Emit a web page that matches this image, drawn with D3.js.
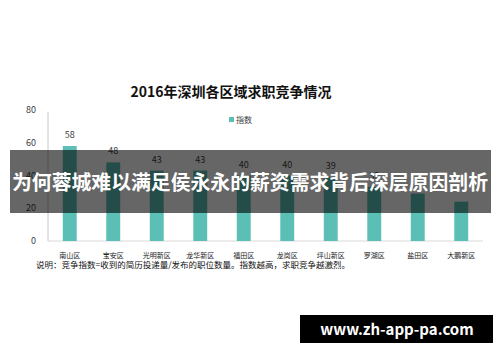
<!DOCTYPE html>
<html>
<head>
<meta charset="utf-8">
<script src="https://cdn.jsdelivr.net/npm/d3@7"></script>
<style>
  body { margin: 0; background: #fff; }
  svg { display: block; font-family: "Noto Sans CJK SC", "Noto Sans", sans-serif; }
</style>
</head>
<body>
<div id="chart"></div>
<script>
// Chart data
const districts = ['南山区', '宝安区', '光明新区', '龙华新区', '福田区', '龙岗区', '坪山新区', '罗湖区', '盐田区', '大鹏新区'];
const indexValues = [58, 48, 43, 43, 40, 40, 39, 33, 29, 24];
const yTicks = [0, 20, 40, 60, 80];
const shownLabels = [true, true, true, true, true, true, true, true, false, false];

const title = '2016年深圳各区域求职竞争情况';
const legendLabel = '指数';
const note = '说明：竞争指数=收到的简历投递量/发布的职位数量。指数越高，求职竞争越激烈。';
const bannerText = '为何蓉城难以满足侯永永的薪资需求背后深层原因剖析';
const siteText = 'www.zh-app-pa.com';

const width = 500, height = 362;
const margin = { top: 110, right: 17, bottom: 121, left: 48 };
const barColor = '#5bbfb5';

const svg = d3.select('#chart')
    .append('svg')
    .attr('width', width)
    .attr('height', height);

const x = d3.scaleBand()
    .domain(districts)
    .range([margin.left, width - margin.right])
    .paddingInner(0.68)
    .paddingOuter(0.34);

const y = d3.scaleLinear()
    .domain([0, 80])
    .range([height - margin.bottom, margin.top]);

// Title
svg.append('text')
    .attr('x', 231)
    .attr('y', 97)
    .attr('text-anchor', 'middle')
    .style('font-size', '14px')
    .style('font-weight', 'bold')
    .attr('fill', '#111')
    .text(title);

// Legend
svg.append('rect')
    .attr('x', 229)
    .attr('y', 117)
    .attr('width', 5)
    .attr('height', 5)
    .attr('fill', barColor);
svg.append('text')
    .attr('x', 236)
    .attr('y', 123)
    .style('font-size', '8px')
    .attr('fill', '#404040')
    .text(legendLabel);

// Y axis labels
svg.append('g')
    .selectAll('text')
    .data(yTicks)
    .join('text')
    .attr('x', 36)
    .attr('y', d => y(d) + 3)
    .attr('text-anchor', 'end')
    .style('font-size', '9px')
    .attr('fill', '#404040')
    .text(d => d);

// Axis lines
svg.append('line')
    .attr('x1', margin.left).attr('x2', margin.left)
    .attr('y1', margin.top + 2).attr('y2', y(0))
    .attr('stroke', '#c8c8c8');
svg.append('line')
    .attr('x1', margin.left).attr('x2', width - margin.right)
    .attr('y1', y(0)).attr('y2', y(0))
    .attr('stroke', '#d9d9d9');

// Bars
svg.append('g')
    .selectAll('rect')
    .data(indexValues)
    .join('rect')
    .attr('x', (d, i) => x(districts[i]))
    .attr('y', d => y(d))
    .attr('width', x.bandwidth())
    .attr('height', d => y(0) - y(d))
    .attr('fill', barColor);

// Value labels
svg.append('g')
    .selectAll('text')
    .data(indexValues)
    .join('text')
    .attr('x', (d, i) => x(districts[i]) + x.bandwidth() / 2)
    .attr('y', d => y(d) - 8)
    .attr('text-anchor', 'middle')
    .style('font-size', '9px')
    .attr('fill', '#404040')
    .text((d, i) => shownLabels[i] ? d : '');

// Category labels
svg.append('g')
    .selectAll('text')
    .data(districts)
    .join('text')
    .attr('x', d => x(d) + x.bandwidth() / 2)
    .attr('y', 258)
    .attr('text-anchor', 'middle')
    .style('font-size', '7px')
    .attr('fill', '#222')
    .text(d => d);

// Note
svg.append('text')
    .attr('x', 36)
    .attr('y', 268)
    .style('font-size', '8.5px')
    .attr('fill', '#111')
    .text(note);

// Dark banner with headline
svg.append('rect')
    .attr('x', 10)
    .attr('y', 150)
    .attr('width', 481)
    .attr('height', 63)
    .attr('fill', 'rgba(0,0,0,0.6)');
svg.append('text')
    .attr('x', 12)
    .attr('y', 190)
    .attr('textLength', 476)
    .attr('lengthAdjust', 'spacingAndGlyphs')
    .style('font-size', '20px')
    .style('font-weight', 'bold')
    .attr('fill', '#fff')
    .text(bannerText);

// Site watermark
svg.append('rect')
    .attr('x', 300)
    .attr('y', 315)
    .attr('width', 193)
    .attr('height', 28)
    .attr('fill', '#000');
svg.append('text')
    .attr('x', 397)
    .attr('y', 335)
    .attr('text-anchor', 'middle')
    .style('font-size', '15px')
    .style('font-weight', 'bold')
    .attr('fill', '#fff')
    .text(siteText);
</script>
</body>
</html>
